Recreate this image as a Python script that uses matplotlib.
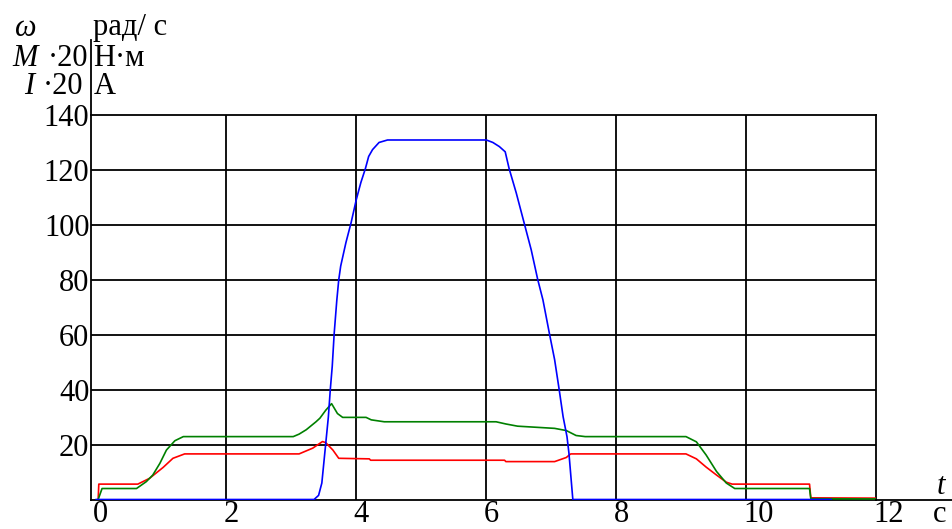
import matplotlib
matplotlib.use("Agg")
import matplotlib.pyplot as plt
from matplotlib.lines import Line2D
from matplotlib import transforms

# Speed, torque*20 and current*20 of the drive over one cycle
t_omega = [0, 3.35, 3.42, 3.47, 3.52, 3.57, 3.60, 3.63, 3.66, 3.68, 3.70, 3.73, 3.76,
           3.84, 3.92, 4.00, 4.07, 4.14, 4.19, 4.25, 4.35, 4.48, 6.00, 6.10, 6.20,
           6.29, 6.35, 6.46, 6.58, 6.69, 6.79, 6.87, 6.97, 7.05, 7.12, 7.18, 7.24,
           7.27, 7.30, 7.33, 11.30]
omega = [0, 0, 1.5, 6.0, 18.0, 30.0, 40.0, 48.5, 60.5, 66.5, 72.5, 80.0, 85.0,
         93.5, 100.8, 109.2, 115.4, 120.5, 124.9, 127.4, 130.0, 130.9, 130.9, 130.0,
         128.5, 126.6, 120.5, 111.6, 100.8, 90.9, 80.1, 72.7, 60.4, 50.9, 40.0,
         30.2, 22.9, 16.9, 8.4, 0, 0]

t_torque = [0.03, 0.09, 0.62, 0.77, 0.87, 0.98, 1.08, 1.21, 1.34, 3.03, 3.12, 3.23,
            3.38, 3.44, 3.53, 3.62, 3.71, 3.79, 4.15, 4.23, 4.43, 6.15, 6.30, 6.48,
            7.05, 7.23, 7.38, 7.52, 9.07, 9.23, 9.38, 9.54, 9.69, 9.82, 10.97, 10.99,
            12.0]
torque20 = [0, 4.0, 4.0, 6.5, 8.9, 13.2, 18.0, 21.4, 22.9, 22.9, 23.8, 25.4,
            28.3, 29.6, 32.5, 34.9, 31.3, 29.9, 29.9, 29.0, 28.3, 28.3, 27.5, 26.7,
            25.9, 25.1, 23.3, 22.9, 22.9, 21.0, 16.2, 10.2, 6.0, 4.0, 4.0, 0.3,
            0.2]

t_current = [0.03, 0.04, 0.64, 0.82, 1.03, 1.18, 1.36, 3.12, 3.33, 3.48, 3.53, 3.64,
             3.73, 4.20, 4.22, 6.28, 6.30, 7.05, 7.23, 7.28, 7.30, 9.07, 9.23, 9.38,
             9.54, 9.69, 9.78, 10.97, 10.99, 12.0]
current20 = [0, 5.6, 5.6, 7.7, 11.7, 15.0, 16.6, 16.6, 18.7, 21.1, 20.7, 18.0,
             15.0, 14.8, 14.3, 14.3, 13.8, 13.8, 15.3, 16.3, 16.6, 16.6, 14.8, 11.8,
             8.9, 6.3, 5.6, 5.6, 0.6, 0.5]

x_ticks = [0, 2, 4, 6, 8, 10, 12]
x_tick_labels = ["0", "2", "4", "6", "8", "10", "12"]
y_ticks = [20, 40, 60, 80, 100, 120, 140]
y_tick_labels = ["20", "40", "60", "80", "100", "120", "140"]

W, H = 953, 529
SERIF = "Liberation Serif"
FS = 22


def fx(px):
    return px / W


def fy(py):
    return 1 - py / H


fig = plt.figure(figsize=(W / 100, H / 100), dpi=100)
ax = fig.add_axes([fx(91), fy(499.5), fx(876.5) - fx(91), fy(115) - fy(499.5)])
ax.set_xlim(-0.08, 12)
ax.set_ylim(0, 140)

# grid
for x in x_ticks[1:-1]:
    ax.axvline(x, color="black", lw=1.3, zorder=1)
for y in y_ticks[:-1]:
    ax.axhline(y, color="black", lw=1.3, zorder=1)

ax.plot(t_current, current20, color="#ff0000", lw=1.2, zorder=3)
ax.plot(t_torque, torque20, color="#008000", lw=1.2, zorder=3)
ax.plot(t_omega, omega, color="#0000ff", lw=1.2, zorder=4)

ax.set_xticks([])
ax.set_yticks([])
for s in ax.spines.values():
    s.set_color("black")
    s.set_linewidth(1.3)

# axis extensions beyond the frame
fig.add_artist(Line2D([fx(91), fx(91)], [fy(115), fy(40)], color="black", lw=1.3))
fig.add_artist(Line2D([fx(876.5), fx(953)], [fy(499.5), fy(499.5)], color="black", lw=1.3))

# tick labels
xform_x = transforms.blended_transform_factory(ax.transData, fig.transFigure)
xform_x = transforms.offset_copy(xform_x, fig=fig, x=-3, y=0, units="dots")
for x, lab in zip(x_ticks, x_tick_labels):
    ax.text(x, fy(522), lab, transform=xform_x, ha="left", va="baseline",
            family=SERIF, fontsize=FS, clip_on=False)

xform_y = transforms.blended_transform_factory(fig.transFigure, ax.transData)
for y, lab in zip(y_ticks, y_tick_labels):
    ax.text(fx(89.5), y, lab, transform=xform_y, ha="right", va="center_baseline",
            family=SERIF, fontsize=FS, clip_on=False)

# axis titles and units
fig.text(fx(26), fy(36), "ω", family=SERIF, style="italic", fontsize=FS,
         ha="center", va="baseline")
fig.text(fx(93), fy(35), "рад/ с", family=SERIF, fontsize=FS, ha="left", va="baseline")
fig.text(fx(38), fy(65.7), "M", family=SERIF, style="italic", fontsize=FS,
         ha="right", va="baseline")
fig.text(fx(88.5), fy(65.7), "·20", family=SERIF, fontsize=FS, ha="right", va="baseline")
fig.text(fx(93), fy(65.7), "Н·м", family=SERIF, fontsize=FS, ha="left", va="baseline")
fig.text(fx(34), fy(94.3), "I", family=SERIF, style="italic", fontsize=FS,
         ha="right", va="baseline")
fig.text(fx(83), fy(94.3), "·20", family=SERIF, fontsize=FS, ha="right", va="baseline")
fig.text(fx(94), fy(94.3), "А", family=SERIF, fontsize=FS, ha="left", va="baseline")

fig.text(fx(941), fy(494), "t", family=SERIF, style="italic", fontsize=FS,
         ha="center", va="baseline")
fig.text(fx(940), fy(522), "с", family=SERIF, fontsize=FS, ha="center", va="baseline")

fig.savefig("out.png", dpi=100)
